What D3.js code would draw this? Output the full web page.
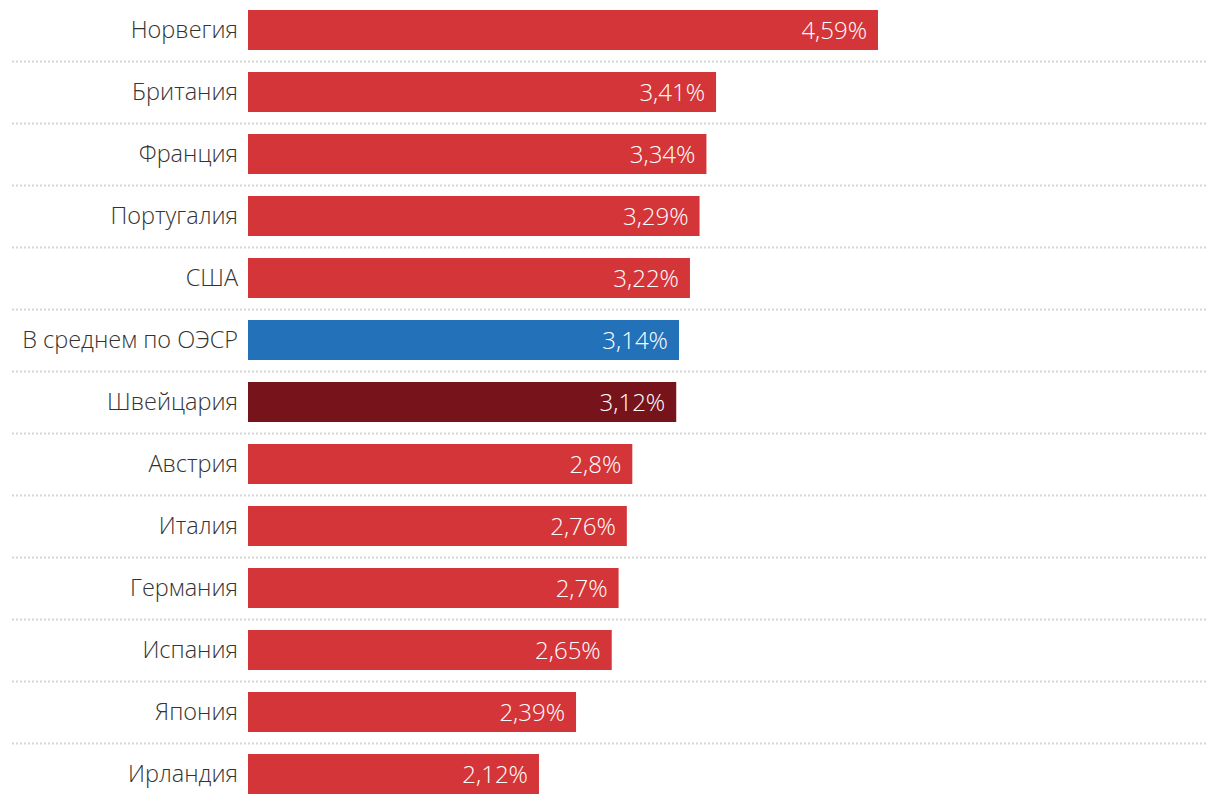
<!DOCTYPE html>
<html><head><meta charset="utf-8">
<script src="https://cdn.jsdelivr.net/npm/d3@7"></script>
<style>
body{margin:0;background:#fff;}
text{font-family:"Open Sans",sans-serif;font-weight:300;}
</style></head>
<body><svg id="c" width="1220" height="804"></svg>
<script>
const categories = ["Норвегия","Британия","Франция","Португалия","США","В среднем по ОЭСР","Швейцария","Австрия","Италия","Германия","Испания","Япония","Ирландия"];
const values = [4.59,3.41,3.34,3.29,3.22,3.14,3.12,2.8,2.76,2.7,2.65,2.39,2.12];
const valueLabels = ["4,59%","3,41%","3,34%","3,29%","3,22%","3,14%","3,12%","2,8%","2,76%","2,7%","2,65%","2,39%","2,12%"];
const highlight = {"В среднем по ОЭСР":"#2271b9","Швейцария":"#76131b"};

const svg = d3.select("#c");
const x = d3.scaleLinear().domain([0,4.59]).range([248,878]);
const y = d3.scaleBand().domain(categories).range([-1,805]).paddingInner(22/62).paddingOuter(11/62);

const data = categories.map((c,i)=>({c,v:values[i],l:valueLabels[i]}));

svg.selectAll("line.sep").data(categories.slice(1)).enter().append("line")
  .attr("x1",12).attr("x2",1208)
  .attr("y1",d=>Math.round(y(d)-y.step()*(22/62)/2)+0.5)
  .attr("y2",d=>Math.round(y(d)-y.step()*(22/62)/2)+0.5)
  .attr("stroke","#d6d6d6").attr("stroke-width",2).attr("stroke-dasharray","2,2");

svg.selectAll("rect.bar").data(data).enter().append("rect")
  .attr("x",x(0)).attr("y",d=>y(d.c)).attr("width",d=>x(d.v)-x(0)).attr("height",y.bandwidth())
  .attr("fill",d=>highlight[d.c]||"#d43538");

svg.selectAll("text.cat").data(data).enter().append("text").attr("class","cat")
  .attr("x",238).attr("y",d=>y(d.c)+y.bandwidth()/2).attr("dy","0.35em")
  .attr("text-anchor","end").attr("font-size",23.5).attr("fill","#333").text(d=>d.c);

svg.selectAll("text.val").data(data).enter().append("text").attr("class","val")
  .attr("x",d=>x(d.v)-11).attr("y",d=>y(d.c)+y.bandwidth()/2).attr("dy","0.36em")
  .attr("text-anchor","end").attr("font-size",24).attr("fill","#fff").text(d=>d.l);
</script></body></html>
